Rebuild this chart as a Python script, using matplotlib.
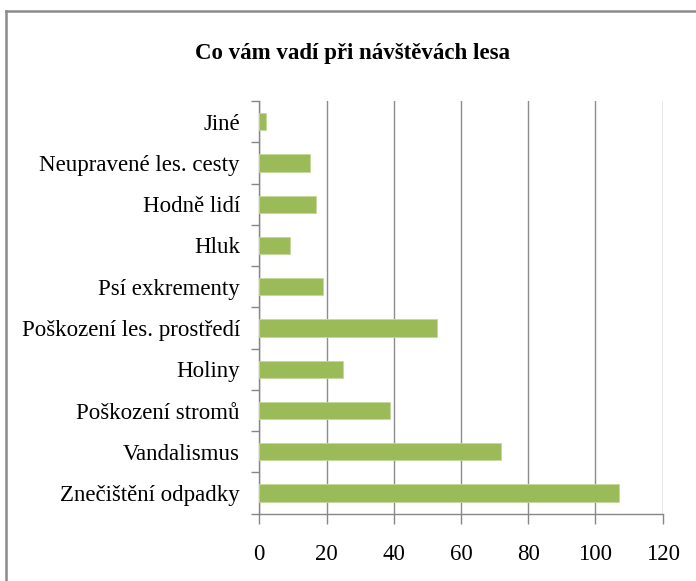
import matplotlib.pyplot as plt
from matplotlib.lines import Line2D

# data, bottom to top as drawn
categories = ["Znečištění odpadky", "Vandalismus", "Poškození stromů", "Holiny",
              "Poškození les. prostředí", "Psí exkrementy", "Hluk", "Hodně lidí",
              "Neupravené les. cesty", "Jiné"]
values = [107, 72, 39, 25, 53, 19, 9, 17, 15, 2]
xticks = [0, 20, 40, 60, 80, 100, 120]

plt.rcParams['font.family'] = ['Liberation Serif', 'DejaVu Serif']

fig = plt.figure(figsize=(6.96, 5.81), dpi=100)
ax = fig.add_axes([259.3 / 696, 1 - 513.7 / 581, 403.4 / 696, 412.7 / 581])

pos = list(range(len(categories)))
ax.barh(pos, values, height=0.42, color='#9bbb59', edgecolor='#c4d89e', linewidth=0.6, zorder=3)

ax.set_xlim(0, 120)
ax.set_ylim(-0.5, len(categories) - 0.5)
ax.set_xticks(xticks)
ax.set_xticklabels([str(t) for t in xticks], fontsize=16.5)
ax.tick_params(axis='x', length=7.5, width=1, color='#868686', pad=14)

# category ticks at boundaries, labels at centres
ax.set_yticks([p - 0.5 for p in pos] + [len(categories) - 0.5])
ax.set_yticklabels([])
ax.set_yticks(pos, minor=True)
ax.set_yticklabels(categories, minor=True, fontsize=16.5)
ax.tick_params(axis='y', which='major', length=5.5, width=1, color='#868686')
ax.tick_params(axis='y', which='minor', length=0, pad=14)

ax.grid(axis='x', color='#8c8c8c', linewidth=1, zorder=0)
for s in ['top', 'right']:
    ax.spines[s].set_visible(False)
for s in ['left', 'bottom']:
    ax.spines[s].set_color('#868686')
    ax.spines[s].set_linewidth(1)

fig.text(0.506, 1 - 53 / 581, "Co vám vadí při návštěvách lesa", ha='center', va='center',
         fontsize=16.5, fontweight='bold')

# outer chart frame
fig.add_artist(Line2D([6 / 696, 1.0], [1 - 11 / 581] * 2, color='#8a8a8a', linewidth=1.8))
fig.add_artist(Line2D([6 / 696] * 2, [0.0, 1 - 11 / 581], color='#8a8a8a', linewidth=1.8))

fig.savefig('out.png', dpi=100)
